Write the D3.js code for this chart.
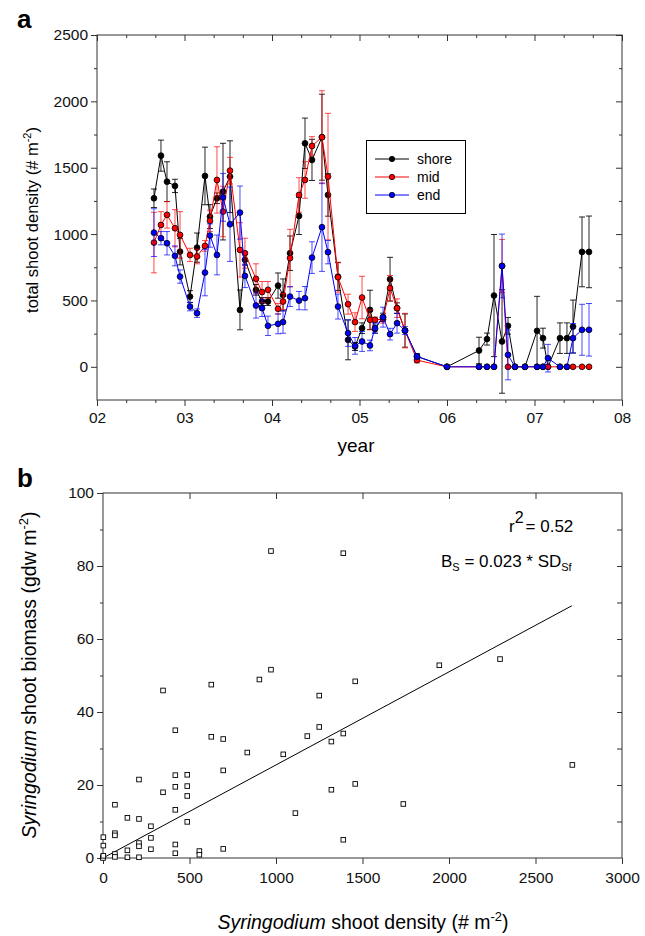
<!DOCTYPE html>
<html>
<head>
<meta charset="utf-8">
<script src="https://cdn.jsdelivr.net/npm/d3@7"></script>
<style>
  body { margin: 0; background: #fff; }
  svg { font-family: "Liberation Sans", Arial, Helvetica, sans-serif; }
  .tick text { font-size: 15.5px; fill: #111; }
  .tick line { stroke: #333; }
</style>
</head>
<body>
<script>
// ---- panel a: shoot density through time (year offset from 2000) ----
const years = [2.651, 2.731, 2.800, 2.891, 2.949, 3.063, 3.143, 3.234, 3.291, 3.371,
  3.440, 3.520, 3.634, 3.691, 3.817, 3.886, 3.954, 4.069, 4.126, 4.206,
  4.309, 4.377, 4.457, 4.571, 4.640, 4.754, 4.869, 4.949, 5.029, 5.120,
  5.177, 5.269, 5.349, 5.429, 5.520, 5.657, 6.000, 6.366, 6.457, 6.537,
  6.629, 6.697, 6.777, 6.891, 7.029, 7.097, 7.154, 7.291, 7.371, 7.440,
  7.543, 7.623];

const shore = [1270, 1591, 1395, 1363, 868, 529, 898, 1438, 1132, 1270,
  1320, 1433, 429, 806, 580, 492, 492, 612, 542, 856,
  1137, 1684, 1559, 1730, 1295, 680, 203, 153, 291, 429,
  284, 374, 660, 442, 273, 78, 0, 123, 209, 537,
  191, 309, 0, 0, 271, 216, 0, 216, 216, 303,
  866, 866];
const shoreErr = [70, 117, 150, 50, 100, 45, 110, 217, 90, 40,
  364, 270, 150, 40, 40, 30, 30, 95, 120, 130,
  140, 190, 155, 324, 160, 105, 150, 30, 40, 148,
  30, 30, 165, 40, 125, 20, 0, 100, 45, 460,
  390, 63, 0, 0, 260, 75, 0, 115, 115, 200,
  263, 270];

const mid = [936, 1069, 1145, 1044, 994, 843, 831, 911, 1100, 1408,
  1170, 1478, 881, 856, 663, 563, 580, 437, 492, 819,
  1295, 1408, 1664, 1730, 1433, 675, 472, 337, 522, 354,
  354, 359, 593, 442, 273, 50, 0, 0, 0, 0,
  760, 0, 0, 0, 0, 0, 0, 0, 0, 0,
  0, 0];
const midErr = [228, 100, 100, 140, 175, 50, 55, 40, 80, 250,
  190, 100, 205, 113, 113, 80, 63, 40, 60, 217,
  130, 138, 70, 350, 477, 113, 75, 70, 160, 75,
  20, 30, 95, 70, 130, 20, 0, 0, 0, 0,
  200, 0, 0, 0, 0, 0, 0, 0, 0, 0,
  0, 0];

const end = [1011, 969, 931, 836, 680, 454, 404, 710, 989, 843,
  1277, 1074, 1162, 685, 462, 442, 309, 324, 337, 529,
  499, 517, 823, 1052, 864, 454, 254, 158, 191, 161,
  291, 374, 246, 329, 273, 78, 0, 0, 0, 0,
  760, 90, 0, 0, 0, 0, 65, 0, 0, 216,
  279, 279];
const endErr = [180, 50, 88, 75, 50, 32, 32, 175, 88, 150,
  180, 280, 200, 88, 95, 63, 73, 75, 84, 75,
  69, 88, 119, 333, 88, 94, 100, 63, 75, 40,
  38, 75, 44, 75, 30, 20, 0, 0, 0, 0,
  240, 188, 0, 0, 0, 0, 104, 0, 0, 110,
  192, 198];

const seriesNames = ["shore", "mid", "end"];
const seriesColors = ["#000000", "#ff0000", "#0000ff"];

const densityTicks = [0, 500, 1000, 1500, 2000, 2500];
const yearTicks = [2, 3, 4, 5, 6, 7, 8];

// ---- panel b: biomass vs density ----
const sdDensity = [971, 1389, 971, 904, 1458, 347, 626, 1250, 418, 626,
  695, 1250, 1181, 1320, 1389, 834, 1042, 695, 418, 487,
  208, 418, 487, 487, 347, 1320, 1458, 69, 418, 1112,
  141, 208, 487, 277, 69, 69, 2, 277, 208, 418,
  2, 208, 1389, 277, 695, 141, 69, 418, 557, 557,
  0, 0, 69, 141, 208, 2, 1944, 2295, 1736, 2713];
const sdBiomass = [84.1, 83.5, 51.6, 48.9, 48.4, 45.9, 47.5, 44.5, 35.0, 33.2,
  32.6, 35.9, 33.4, 31.9, 34.1, 28.9, 28.4, 24.0, 22.7, 22.8,
  21.5, 19.5, 19.7, 17.0, 18.0, 18.7, 20.3, 14.6, 13.2, 12.3,
  11.0, 10.7, 9.9, 8.7, 6.8, 6.2, 5.7, 5.5, 4.1, 3.7,
  3.4, 3.2, 5.0, 2.4, 2.5, 2.1, 1.1, 1.3, 1.9, 0.9,
  0.2, 0.0, 0.3, 0.2, 0.2, 0.6, 52.8, 54.5, 14.8, 25.5];

const fitSlope = 0.0255;        // slope of the drawn line
const fitRange = [0, 2710];
const biomassTicks = [0, 20, 40, 60, 80, 100];
const densityTicksB = [0, 500, 1000, 1500, 2000, 2500, 3000];

const W = 645, H = 936;
const svg = d3.select("body").append("svg").attr("width", W).attr("height", H);

function styleAxis(g) {
  g.select(".domain").remove();
  g.selectAll(".tick line").attr("stroke", "#333").attr("stroke-width", 1);
  return g;
}

// ================= panel a =================
const ax = d3.scaleLinear().domain([2, 8]).range([97, 622]);
const ay = d3.scaleLinear().domain([-250, 2500]).range([400, 35]);

const ga = svg.append("g");

const yearMinor = d3.range(0, 18).map(i => 2 + i / 3).filter((d, i) => i % 3 !== 0);
const densMinor = [250, 750, 1250, 1750, 2250];

// left (outward)
ga.append("g").attr("transform", "translate(97,0)")
  .call(d3.axisLeft(ay).tickValues(densityTicks).tickSize(6).tickPadding(3).tickFormat(d3.format("d")))
  .call(styleAxis);
ga.append("g").attr("transform", "translate(97,0)")
  .call(d3.axisLeft(ay).tickValues(densMinor).tickSize(3).tickFormat(""))
  .call(styleAxis);
// right (inward)
ga.append("g").attr("transform", "translate(622,0)")
  .call(d3.axisLeft(ay).tickValues(densityTicks).tickSize(6).tickFormat(""))
  .call(styleAxis);
ga.append("g").attr("transform", "translate(622,0)")
  .call(d3.axisLeft(ay).tickValues(densMinor).tickSize(3).tickFormat(""))
  .call(styleAxis);
// bottom (outward)
ga.append("g").attr("transform", "translate(0,400)")
  .call(d3.axisBottom(ax).tickValues(yearTicks).tickSize(6).tickPadding(6).tickFormat(d3.format("02d")))
  .call(styleAxis);
ga.append("g").attr("transform", "translate(0,400)")
  .call(d3.axisBottom(ax).tickValues(yearMinor).tickSize(3).tickFormat(""))
  .call(styleAxis);
// top (inward)
ga.append("g").attr("transform", "translate(0,35)")
  .call(d3.axisBottom(ax).tickValues(yearTicks).tickSize(6).tickFormat(""))
  .call(styleAxis);
ga.append("g").attr("transform", "translate(0,35)")
  .call(d3.axisBottom(ax).tickValues(yearMinor).tickSize(3).tickFormat(""))
  .call(styleAxis);

ga.append("rect")
  .attr("x", ax(2)).attr("y", ay(2500))
  .attr("width", ax(8) - ax(2)).attr("height", ay(-250) - ay(2500))
  .attr("fill", "none").attr("stroke", "#333").attr("stroke-width", 1);

const allSeries = [
  { name: "shore", values: shore, err: shoreErr },
  { name: "mid", values: mid, err: midErr },
  { name: "end", values: end, err: endErr }
];

const line = d3.line().x(d => ax(d.t)).y(d => ay(d.v));

allSeries.forEach((s, si) => {
  const color = seriesColors[si];
  const pts = years.map((t, i) => ({ t, v: s.values[i], e: s.err[i] }));
  const g = ga.append("g").attr("class", "series-" + s.name);

  // error bars
  g.selectAll("path.err")
    .data(pts.filter(d => d.e > 0))
    .join("path")
    .attr("class", "err")
    .attr("fill", "none")
    .attr("stroke", color)
    .attr("stroke-opacity", si === 0 ? 0.85 : 0.7)
    .attr("stroke-width", 1)
    .attr("d", d => {
      const x = ax(d.t), y0 = ay(d.v - d.e), y1 = ay(d.v + d.e);
      return `M${x},${y0}V${y1}M${x - 3},${y0}H${x + 3}M${x - 3},${y1}H${x + 3}`;
    });

  g.append("path")
    .datum(pts)
    .attr("fill", "none")
    .attr("stroke", color)
    .attr("stroke-width", 1)
    .attr("d", line);

  g.selectAll("circle")
    .data(pts)
    .join("circle")
    .attr("cx", d => ax(d.t))
    .attr("cy", d => ay(d.v))
    .attr("r", 2.9)
    .attr("fill", color)
    .attr("stroke", "#000")
    .attr("stroke-width", 0.8);
});

// legend
const lg = ga.append("g");
lg.append("rect").attr("x", 366.5).attr("y", 140.5).attr("width", 99).attr("height", 73)
  .attr("fill", "#fff").attr("stroke", "#000").attr("stroke-width", 1);
seriesNames.forEach((name, i) => {
  const yy = 159 + i * 18;
  lg.append("line").attr("x1", 375).attr("x2", 409).attr("y1", yy).attr("y2", yy)
    .attr("stroke", seriesColors[i]).attr("stroke-width", 1);
  lg.append("circle").attr("cx", 392).attr("cy", yy).attr("r", 2.7)
    .attr("fill", seriesColors[i]).attr("stroke", "#000").attr("stroke-width", 0.8);
  lg.append("text").attr("x", 417).attr("y", yy + 5).attr("font-size", 14).text(name);
});

// titles
svg.append("text").attr("x", 17).attr("y", 28).attr("font-size", 26).attr("font-weight", "bold").text("a");
svg.append("text").attr("x", 356).attr("y", 452).attr("font-size", 19).attr("text-anchor", "middle").text("year");

const ayt = svg.append("text").attr("transform", "translate(38,220) rotate(-90)")
  .attr("font-size", 16.5).attr("text-anchor", "middle");
ayt.append("tspan").text("total shoot density (# m");
ayt.append("tspan").attr("font-size", 11).attr("dy", -7).text("-2");
ayt.append("tspan").attr("dy", 7).text(")");

// ================= panel b =================
const bx = d3.scaleLinear().domain([0, 3000]).range([103, 622]);
const by = d3.scaleLinear().domain([0, 100]).range([858, 493]);
const gb = svg.append("g");

const bioMinor = [10, 30, 50, 70, 90];
const bioAll = d3.range(10, 100, 10);

gb.append("g").attr("transform", "translate(103,0)")
  .call(d3.axisLeft(by).tickValues(biomassTicks).tickSize(6).tickPadding(3).tickFormat(d3.format("d")))
  .call(styleAxis);
gb.append("g").attr("transform", "translate(103,0)")
  .call(d3.axisLeft(by).tickValues(bioMinor).tickSize(3).tickFormat(""))
  .call(styleAxis);
gb.append("g").attr("transform", "translate(622,0)")
  .call(d3.axisLeft(by).tickValues(bioAll).tickSize(5).tickFormat(""))
  .call(styleAxis);
gb.append("g").attr("transform", "translate(0,858)")
  .call(d3.axisBottom(bx).tickValues(densityTicksB).tickSize(6).tickPadding(8).tickFormat(d3.format("d")))
  .call(styleAxis);
gb.append("g").attr("transform", "translate(0,493)")
  .call(d3.axisBottom(bx).tickValues(densityTicksB.slice(1, -1)).tickSize(6).tickFormat(""))
  .call(styleAxis);

gb.append("rect")
  .attr("x", bx(0)).attr("y", by(100))
  .attr("width", bx(3000) - bx(0)).attr("height", by(0) - by(100))
  .attr("fill", "none").attr("stroke", "#333").attr("stroke-width", 1);

// fit line
gb.append("line")
  .attr("x1", bx(fitRange[0])).attr("y1", by(fitRange[0] * fitSlope))
  .attr("x2", bx(fitRange[1])).attr("y2", by(fitRange[1] * fitSlope))
  .attr("stroke", "#000").attr("stroke-width", 1);

gb.selectAll("rect.pt")
  .data(sdDensity.map((d, i) => ({ x: d, y: sdBiomass[i] })))
  .join("rect")
  .attr("class", "pt")
  .attr("x", d => bx(d.x) - 2.3)
  .attr("y", d => by(d.y) - 2.3)
  .attr("width", 4.6).attr("height", 4.6)
  .attr("fill", "#fff").attr("stroke", "#000").attr("stroke-width", 0.9);

// annotations
const r2 = gb.append("text").attr("x", 509).attr("y", 532).attr("font-size", 17);
r2.append("tspan").text("r");
r2.append("tspan").attr("dy", -9).attr("font-size", 16).text("2");
r2.append("tspan").attr("dy", 9).attr("dx", 2).text("= 0.52");

const eq = gb.append("text").attr("x", 441).attr("y", 567).attr("font-size", 17);
eq.append("tspan").text("B");
eq.append("tspan").attr("dy", 4).attr("font-size", 11).text("S");
eq.append("tspan").attr("dy", -4).text(" = 0.023 * SD");
eq.append("tspan").attr("dy", 4).attr("font-size", 11).text("Sf");

svg.append("text").attr("x", 17).attr("y", 487).attr("font-size", 26).attr("font-weight", "bold").text("b");

const bxt = svg.append("text").attr("x", 363).attr("y", 929).attr("font-size", 19.5).attr("text-anchor", "middle");
bxt.append("tspan").attr("font-style", "italic").text("Syringodium");
bxt.append("tspan").text(" shoot density (# m");
bxt.append("tspan").attr("font-size", 13).attr("dy", -8).text("-2");
bxt.append("tspan").attr("dy", 8).text(")");

const byt = svg.append("text").attr("transform", "translate(36,675) rotate(-90)")
  .attr("font-size", 19.5).attr("text-anchor", "middle");
byt.append("tspan").attr("font-style", "italic").text("Syringodium");
byt.append("tspan").text(" shoot biomass (gdw m");
byt.append("tspan").attr("font-size", 13).attr("dy", -8).text("-2");
byt.append("tspan").attr("dy", 8).text(")");
</script>
</body>
</html>
